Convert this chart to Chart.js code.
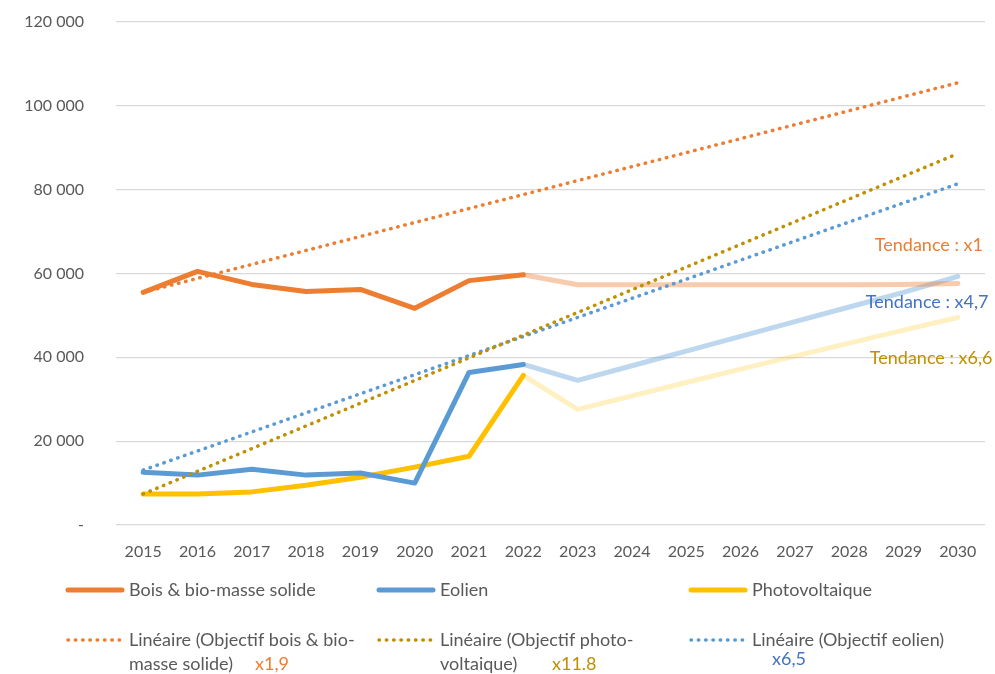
<!DOCTYPE html>
<html>
<head>
<meta charset="utf-8">
<script src="https://cdn.jsdelivr.net/npm/chart.js@4/dist/chart.umd.min.js"></script>
<style>
  html, body { margin: 0; padding: 0; background: #fff; overflow: hidden; }
  #wrap { width: 995px; height: 674px; position: relative; }
</style>
</head>
<body>
<div id="wrap"><canvas id="chart"></canvas></div>
<script>
// Données
const years = ['2015', '2016', '2017', '2018', '2019', '2020', '2021', '2022',
  '2023', '2024', '2025', '2026', '2027', '2028', '2029', '2030'];
const lastRealIndex = 7; // 2022 : après, projection (trait pâle)

const bois = [55500, 60500, 57400, 55700, 56200, 51700, 58300, 59700,
  57300, 57300, 57300, 57300, 57300, 57300, 57400, 57600];
const eolien = [12600, 11900, 13300, 11900, 12400, 10000, 36400, 38300,
  34500, 38000, 41500, 45000, 48500, 52000, 55500, 59300];
const photovoltaique = [7400, 7400, 7900, 9500, 11400, 13800, 16400, 35700,
  27600, 30800, 34000, 37200, 40300, 43400, 46500, 49500];

// Tendances linéaires des objectifs (début 2015, fin 2030)
const objectifBois = [55500, null, null, null, null, null, null, null,
  null, null, null, null, null, null, null, 105500];
const objectifPhoto = [7400, null, null, null, null, null, null, null,
  null, null, null, null, null, null, null, 88600];
const objectifEolien = [13100, null, null, null, null, null, null, null,
  null, null, null, null, null, null, null, 81400];

const yTicks = [0, 20000, 40000, 60000, 80000, 100000, 120000];

const tendances = [
  { text: 'Tendance : x1', value: 66700, dx: -83, color: '#ED7D31' },
  { text: 'Tendance : x4,7', value: 53100, dx: -92, color: '#4472C4' },
  { text: 'Tendance : x6,6', value: 39800, dx: -88, color: '#BF9000' }
];

const FONT = 'Lato, "Open Sans", sans-serif';
const GREY = '#595959';

function fade(hex, pale) {
  return (ctx) => ctx.p0DataIndex >= lastRealIndex ? pale : hex;
}

const dotted = [0.5, 6.8];

const legendItems = [
  { lines: ['Bois & bio-masse solide'], color: '#ED7D31', dash: null, col: 0, row: 0 },
  { lines: ['Eolien'], color: '#5B9BD5', dash: null, col: 1, row: 0 },
  { lines: ['Photovoltaique'], color: '#FFC000', dash: null, col: 2, row: 0 },
  { lines: ['Linéaire (Objectif bois & bio-', 'masse solide)'], color: '#ED7D31', dash: dotted, col: 0, row: 1,
    extra: { text: 'x1,9', color: '#ED7D31', dx: 126, dy: 24 } },
  { lines: ['Linéaire (Objectif photo-', 'voltaique)'], color: '#BF9000', dash: dotted, col: 1, row: 1,
    extra: { text: 'x11.8', color: '#BF9000', dx: 112, dy: 24 } },
  { lines: ['Linéaire (Objectif eolien)'], color: '#5B9BD5', dash: dotted, col: 2, row: 1,
    extra: { text: 'x6,5', color: '#4472C4', dx: 20, dy: 19 } }
];

const extrasPlugin = {
  id: 'extras',
  afterDraw(chart) {
    const { ctx, scales } = chart;
    ctx.save();
    // textes "Tendance"
    ctx.font = '18px ' + FONT;
    ctx.textBaseline = 'middle';
    ctx.textAlign = 'left';
    const x2030 = scales.x.getPixelForValue(years.length - 1);
    tendances.forEach(t => {
      ctx.fillStyle = t.color;
      ctx.fillText(t.text, x2030 + t.dx, scales.y.getPixelForValue(t.value));
    });

    // légende
    const colX = [66, 377, 689];
    const rowY = [590, 640];
    legendItems.forEach(it => {
      const x = colX[it.col], y = rowY[it.row];
      ctx.beginPath();
      ctx.strokeStyle = it.color;
      ctx.lineCap = 'round';
      if (it.dash) {
        ctx.lineWidth = 3.5;
        ctx.setLineDash(it.dash);
      } else {
        ctx.lineWidth = 5;
        ctx.setLineDash([]);
      }
      ctx.moveTo(x + 2, y);
      ctx.lineTo(x + 56, y);
      ctx.stroke();
      ctx.setLineDash([]);
      ctx.fillStyle = GREY;
      ctx.font = '18px ' + FONT;
      it.lines.forEach((l, i) => ctx.fillText(l, x + 63, y + i * 24));
      if (it.extra) {
        ctx.fillStyle = it.extra.color;
        ctx.font = '18px ' + FONT;
        ctx.fillText(it.extra.text, x + 63 + it.extra.dx, y + it.extra.dy);
      }
    });
    ctx.restore();
  }
};

const ctx = document.getElementById('chart').getContext('2d');
new Chart(ctx, {
  type: 'line',
  data: {
    labels: years,
    datasets: [
      { label: 'Linéaire (Objectif bois & bio-masse solide)', data: objectifBois, spanGaps: true,
        borderColor: '#ED7D31', borderWidth: 3.5, borderDash: dotted, borderCapStyle: 'round' },
      { label: 'Linéaire (Objectif photo-voltaique)', data: objectifPhoto, spanGaps: true,
        borderColor: '#BF9000', borderWidth: 3.5, borderDash: dotted, borderCapStyle: 'round' },
      { label: 'Linéaire (Objectif eolien)', data: objectifEolien, spanGaps: true,
        borderColor: '#5B9BD5', borderWidth: 3.5, borderDash: dotted, borderCapStyle: 'round' },
      { label: 'Bois & bio-masse solide', data: bois, borderColor: '#ED7D31', borderWidth: 5,
        segment: { borderColor: fade('#ED7D31', 'rgba(237,125,49,0.4)') } },
      { label: 'Eolien', data: eolien, borderColor: '#5B9BD5', borderWidth: 5,
        segment: { borderColor: fade('#5B9BD5', 'rgba(91,155,213,0.4)') } },
      { label: 'Photovoltaique', data: photovoltaique, borderColor: '#FFC000', borderWidth: 5,
        segment: { borderColor: fade('#FFC000', 'rgba(255,192,0,0.24)') } }
    ]
  },
  options: {
    responsive: true,
    maintainAspectRatio: false,
    animation: false,
    events: [],
    layout: { padding: { top: 22, right: 10, bottom: 109, left: 0 } },
    elements: {
      point: { radius: 0 },
      line: { tension: 0, borderJoinStyle: 'round', borderCapStyle: 'round' }
    },
    plugins: { legend: { display: false }, tooltip: { enabled: false } },
    scales: {
      x: {
        offset: true,
        grid: { display: false },
        border: { display: false },
        ticks: { color: GREY, font: { family: FONT, size: 16 }, padding: 9, maxRotation: 0, autoSkip: false },
        afterFit(s) { s.height = 40; s.paddingLeft = 0; s.paddingRight = 0; }
      },
      y: {
        min: 0, max: 120000,
        afterBuildTicks(s) { s.ticks = yTicks.map(v => ({ value: v })); },
        grid: { color: '#D9D9D9', lineWidth: 1.3, drawTicks: false },
        border: { display: false },
        ticks: {
          color: GREY, font: { family: FONT, size: 16 }, padding: 32,
          callback: v => v === 0 ? '-' : String(v).replace(/\B(?=(\d{3})+(?!\d))/g, ' ')
        },
        afterFit(s) { s.width = 116; s.paddingTop = 0; s.paddingBottom = 0; }
      }
    }
  },
  plugins: [extrasPlugin]
});
</script>
</body>
</html>
